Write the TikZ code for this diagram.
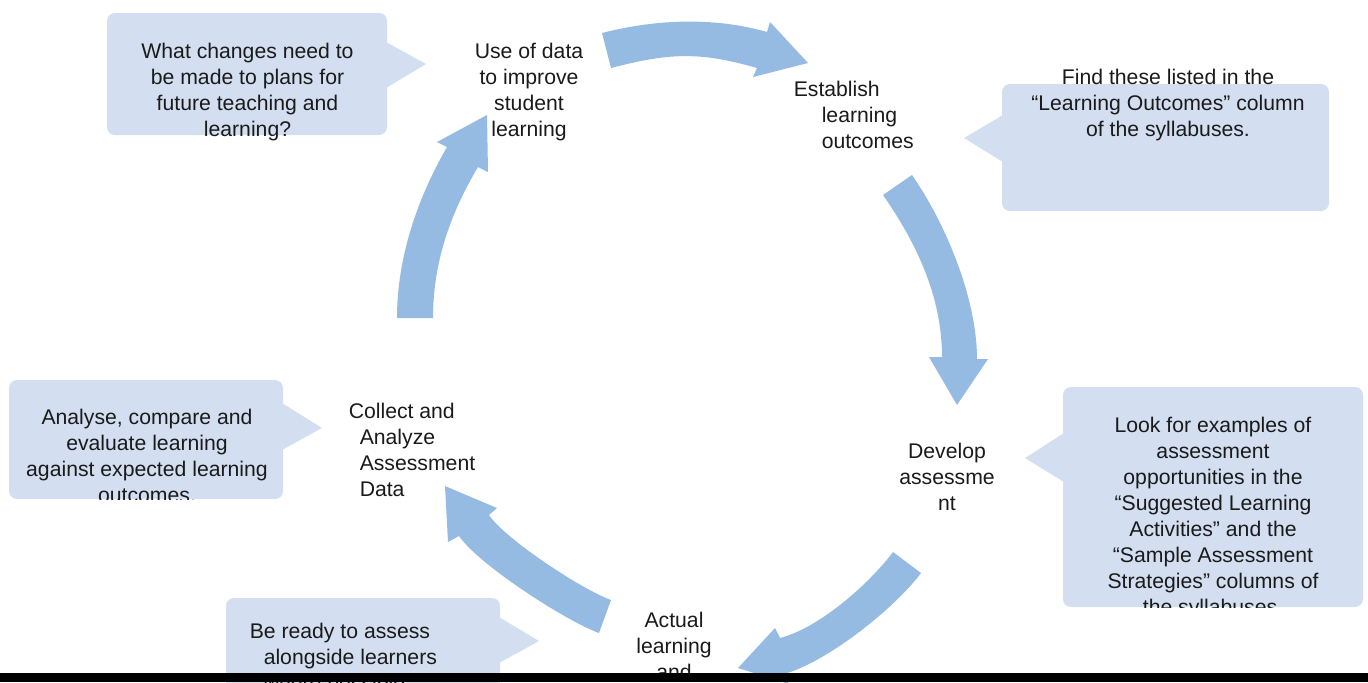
\documentclass[tikz,border=0pt]{standalone}
\usepackage{fontspec}
\setmainfont{Liberation Sans}
\definecolor{arrowblue}{RGB}{149,187,227}
\definecolor{calloutblue}{RGB}{211,223,241}
\definecolor{textgray}{RGB}{26,26,26}

\tikzset{every picture/.style={line width=0.75pt}}
\tikzset{
  cyclearrow/.style={fill=arrowblue, draw=none},
  callout/.style={fill=calloutblue, draw=none, rounded corners=4pt},
  pointer/.style={fill=calloutblue, draw=none},
  steptext/.style={inner sep=0pt, text=textgray, font=\fontsize{10.6}{13}\selectfont},
}

\begin{document}
\begin{tikzpicture}[x=0.5pt,y=0.5pt,yscale=-1]
\useasboundingbox (0,0) rectangle (1368,682);

%Shape: Callout [top left]
\fill[callout] (107,13) rectangle (387,135);
\fill[pointer] (386,42) -- (426,64) -- (386,88) -- cycle;
%Shape: Callout [top right]
\fill[callout] (1002,84) rectangle (1329,211);
\fill[pointer] (1003,115) -- (964,138) -- (1003,162) -- cycle;
%Shape: Callout [right]
\fill[callout] (1063,387) rectangle (1363,607);
\fill[pointer] (1064,433) -- (1025,458) -- (1064,482) -- cycle;
%Shape: Callout [left]
\fill[callout] (9,380) rectangle (283,499);
\fill[pointer] (282,403) -- (322,428) -- (282,450) -- cycle;
%Shape: Callout [bottom left]
\fill[callout] (226,598) rectangle (500,700);
\fill[pointer] (499,617) -- (539,641) -- (499,663) -- cycle;

%Curve Lines [use of data -> establish]
\fill[cyclearrow] (602,33) .. controls (655,19.3) and (714,16.7) .. (767,32) -- (770,22) -- (808,63) -- (753,77) -- (757,68) .. controls (699,51.3) and (669,53) .. (611,68) -- cycle;
%Curve Lines [establish -> develop]
\fill[cyclearrow] (912,175) .. controls (946,224) and (977,299) .. (977,359) -- (988,359) -- (957,405) -- (929,357) -- (942,357) .. controls (942,297) and (917,244) .. (883,195) -- cycle;
%Curve Lines [develop -> actual]
\fill[cyclearrow] (893,552) -- (921,573) .. controls (894,609) and (827,662) .. (784,674) -- (789,684) -- (738,668) -- (775,628) -- (780,638) .. controls (819,628) and (869,584) .. (893,552) -- cycle;
%Curve Lines [actual -> collect]
\fill[cyclearrow] (611,600) .. controls (583,590) and (506,540) .. (489,515) -- (497,508) -- (445,486) -- (448,542) -- (459,536) .. controls (479,565) and (566,621) .. (599,633) -- cycle;
%Curve Lines [collect -> use of data]
\fill[cyclearrow] (433,318) .. controls (433,263) and (450,214) .. (478,167) -- (488,172) -- (487,115) -- (437,142) -- (447,147) .. controls (417,199) and (397,258) .. (397,318) -- cycle;

% Text Node
\node[steptext, anchor=north, align=center] (usedata) at (529,42) {Use of data\\to improve\\student\\learning};
% Text Node
\node[steptext, anchor=north west, align=left] (establish) at (793,80) {Establish\\\hspace*{14pt}learning\\\hspace*{14pt}outcomes};
% Text Node
\node[steptext, anchor=north, align=center] (develop) at (947,442) {Develop\\assessme\\nt};
% Text Node
\node[steptext, anchor=north, align=center] (actual) at (674,611) {Actual\\learning\\and};
% Text Node
\node[steptext, anchor=north west, align=left] (collect) at (348,402) {Collect and\\\hspace*{5.5pt}Analyze\\\hspace*{5.5pt}Assessment\\\hspace*{5.5pt}Data};

% Text Node
\node[steptext, anchor=north, align=center] (changes) at (247.5,42) {What changes need to\\be made to plans for\\future teaching and\\learning?};
% Text Node
\node[steptext, anchor=north, align=center] (findthese) at (1168,68) {Find these listed in the\\“Learning Outcomes” column\\of the syllabuses.};
% Text Node
\begin{scope}
\clip (1063,387) rectangle (1363,607);
\node[steptext, anchor=north, align=center] (lookfor) at (1213,416) {Look for examples of\\assessment\\opportunities in the\\“Suggested Learning\\Activities” and the\\“Sample Assessment\\Strategies” columns of\\the syllabuses.};
\end{scope}
% Text Node
\begin{scope}
\clip (9,380) rectangle (283,499);
\node[steptext, anchor=north, align=center] (analyse) at (147,408) {Analyse, compare and\\evaluate learning\\against expected learning\\outcomes.};
\end{scope}
% Text Node
\node[steptext, anchor=north west, align=left] (beready) at (249,622) {Be ready to assess\\\hspace*{7pt}alongside learners\\\hspace*{7pt}where possible.};

%Shape: Rectangle [bottom bar]
\fill[black] (0,673) rectangle (1368,682);
\end{tikzpicture}
\end{document}
